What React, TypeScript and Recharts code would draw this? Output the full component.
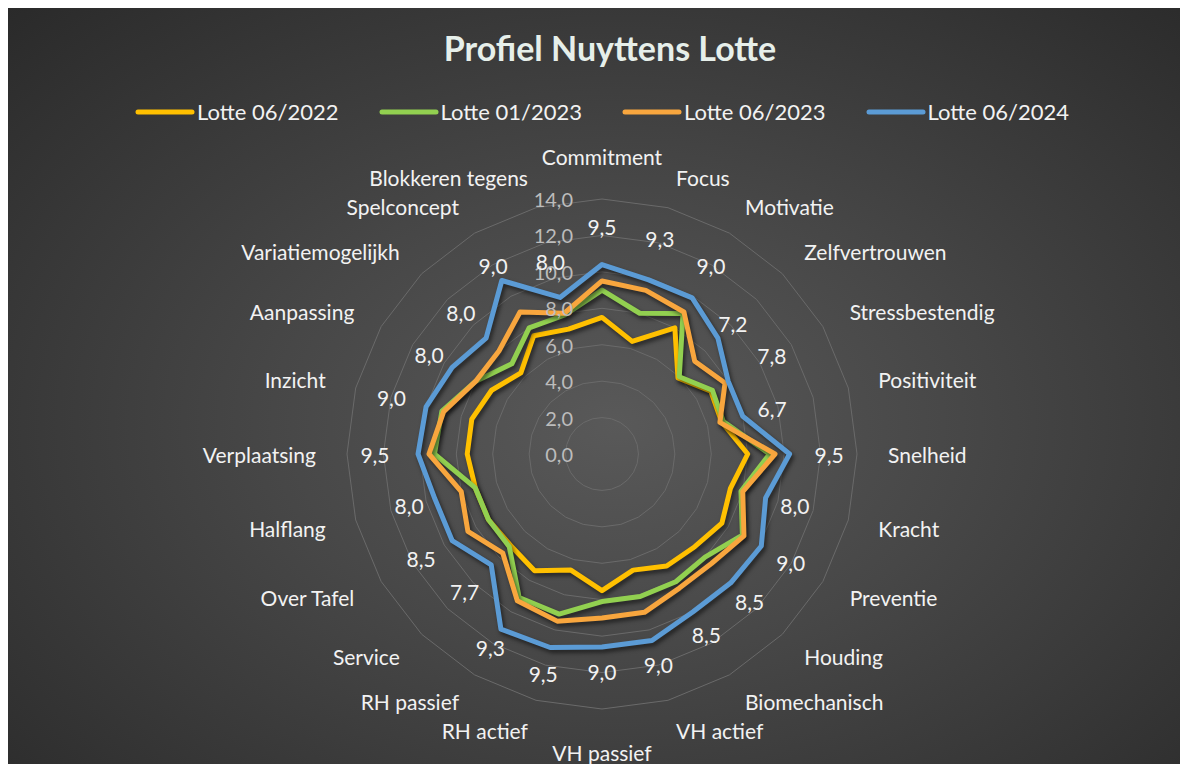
import React from "react";
import { RadarChart, Radar, PolarGrid, PolarAngleAxis, PolarRadiusAxis } from "recharts";

const categories = [
  "Commitment", "Focus", "Motivatie", "Zelfvertrouwen", "Stressbestendig", "Positiviteit",
  "Snelheid", "Kracht", "Preventie", "Houding", "Biomechanisch", "VH actief",
  "VH passief", "RH actief", "RH passief", "Service", "Over Tafel", "Halflang",
  "Verplaatsing", "Inzicht", "Aanpassing", "Variatiemogelijkh", "Spelconcept", "Blokkeren tegens",
];

// Lotte 06/2022
const lotte2206 = [7.5, 6.4, 8.0, 5.9, 6.9, 6.8, 8.0, 7.3, 7.6, 7.2, 7.1, 6.6, 7.5, 6.6, 7.4, 7.1, 7.2, 7.2, 7.4, 7.4, 7.0, 6.3, 7.5, 7.1];
// Lotte 01/2023
const lotte2301 = [9.0, 8.0, 8.9, 6.0, 7.0, 6.9, 9.2, 7.9, 8.9, 8.0, 8.1, 8.1, 8.1, 9.1, 9.1, 7.2, 7.2, 7.2, 9.2, 9.1, 8.0, 7.0, 8.0, 7.9];
// Lotte 06/2023 (these carry the data labels)
const lotte2306 = [9.5, 9.3, 9.0, 7.2, 7.8, 6.7, 9.5, 8.0, 9.0, 8.5, 8.5, 9.0, 9.0, 9.5, 9.3, 7.7, 8.5, 8.0, 9.5, 9.0, 8.0, 8.0, 9.0, 8.0];
// Lotte 06/2024
const lotte2406 = [10.4, 9.9, 9.9, 9.0, 8.0, 8.0, 10.3, 9.3, 10.1, 10.0, 10.0, 10.6, 10.6, 11.0, 11.1, 8.6, 9.5, 9.5, 10.1, 10.0, 9.5, 9.0, 11.0, 8.9];

const seriesNames = ["Lotte 06/2022", "Lotte 01/2023", "Lotte 06/2023", "Lotte 06/2024"];
const seriesKeys = ["s2206", "s2301", "s2306", "s2406"];
const seriesColors = ["#FFC000", "#92D050", "#F8A63E", "#5B9BD5"];

const data = categories.map((name, i) => ({
  name,
  s2206: lotte2206[i],
  s2301: lotte2301[i],
  s2306: lotte2306[i],
  s2406: lotte2406[i],
}));

const FONT = "Lato, 'Open Sans', sans-serif";
const fmt = (v: number) => v.toFixed(1).replace(".", ",");

const renderCategoryTick = (props: any) => {
  const { x, y, payload, textAnchor } = props;
  const s = Math.sin((payload.coordinate * Math.PI) / 180);
  const shift = textAnchor === "middle" ? -s * 12 : 0;
  return (
    <text x={x} y={y + shift} textAnchor={textAnchor} dominantBaseline="central" fill="#f2f2f2" fontSize={21} fontFamily={FONT}>
      {payload.value}
    </text>
  );
};

const renderRadiusTick = (props: any) => {
  const { x, y, payload } = props;
  return (
    <text x={x - 29} y={y} textAnchor="end" dominantBaseline="central" fill="#bcbcbc" fontSize={20} fontFamily={FONT}>
      {fmt(payload.value)}
    </text>
  );
};

// data labels of the 06/2023 series, pushed outwards along the spoke
const renderValueLabel = (props: any) => {
  const { cx, cy, index } = props;
  const a = ((90 - (360 / categories.length) * index) * Math.PI) / 180;
  return (
    <text
      key={`lbl-${index}`}
      x={cx + 54 * Math.cos(a)}
      y={cy - 54 * Math.sin(a)}
      textAnchor="middle"
      dominantBaseline="central"
      fill="#f2f2f2"
      fontSize={21}
      fontFamily={FONT}
    >
      {fmt(lotte2306[index])}
    </text>
  );
};

export default function App() {
  return (
    <div
      style={{
        position: "relative",
        width: 1172,
        height: 756,
        fontFamily: FONT,
        background: "radial-gradient(ellipse at 52% 55%, #595959 0%, #474747 40%, #2a2a2a 100%)",
      }}
    >
      <style>{`.lineShadow path { filter: drop-shadow(2px 3px 2px rgba(0,0,0,0.55)); }`}</style>
      <div
        style={{
          position: "absolute",
          top: 19,
          left: 16,
          width: 1172,
          textAlign: "center",
          color: "#e6efea",
          fontSize: 34,
          fontWeight: 700,
        }}
      >
        Profiel Nuyttens Lotte
      </div>
      <div
        style={{
          position: "absolute",
          top: 90,
          left: 8,
          width: 1172,
          display: "flex",
          justifyContent: "center",
          gap: 40,
          color: "#f2f2f2",
          fontSize: 22,
          zIndex: 2,
        }}
      >
        {seriesNames.map((n, i) => (
          <div key={n} style={{ display: "flex", alignItems: "center" }}>
            <svg width={60} height={10} style={{ marginRight: 2 }}>
              <line x1={3} y1={5} x2={57} y2={5} stroke={seriesColors[i]} strokeWidth={5} strokeLinecap="round" />
            </svg>
            <span>{n}</span>
          </div>
        ))}
      </div>
      <RadarChart
        width={1172}
        height={756}
        data={data}
        cx={594}
        cy={446}
        outerRadius={255}
        margin={{ top: 0, right: 0, bottom: 0, left: 0 }}
        style={{ position: "absolute", top: 0, left: 0 }}
      >
        <PolarGrid gridType="polygon" radialLines={false} stroke="#6a6a6a" strokeWidth={1} />
        <PolarAngleAxis dataKey="name" tick={renderCategoryTick} tickLine={false} axisLine={false} tickSize={31} />
        <PolarRadiusAxis angle={90} domain={[0, 14]} tickCount={8} axisLine={false} tickLine={false} tick={renderRadiusTick} />
        {seriesKeys.map((k, i) => (
          <Radar
            key={k}
            name={seriesNames[i]}
            dataKey={k}
            stroke={seriesColors[i]}
            strokeWidth={5}
            strokeLinejoin="round"
            fill="none"
            fillOpacity={0}
            className="lineShadow"
            dot={k === "s2306" ? renderValueLabel : false}
            isAnimationActive={false}
          />
        ))}
      </RadarChart>
    </div>
  );
}
